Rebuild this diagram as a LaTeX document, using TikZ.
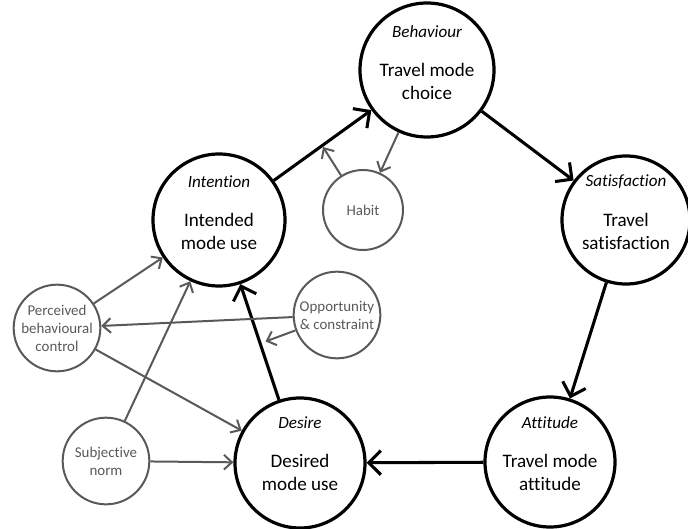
\documentclass[tikz,border=0pt]{standalone}
\usepackage{fontspec}
\setmainfont{Carlito}[Ligatures=NoCommon]
\usetikzlibrary{arrows.meta,calc}
\definecolor{cInk}{HTML}{000000}
\definecolor{cGrey}{HTML}{595959}
\tikzset{
  core/.style = {circle, draw=cInk, line width=2.4pt, minimum size=99pt, inner sep=0pt},
  side/.style = {circle, draw=cGrey, line width=1.5pt, minimum size=65pt, inner sep=0pt,
                 text=cGrey, align=center, font=\fontsize{11.2}{13.5}\selectfont},
  tag/.style  = {font=\fontsize{12.8}{15}\selectfont\itshape},
  main/.style = {align=center, font=\fontsize{14.3}{17.3}\selectfont},
  flow/.style = {-{Straight Barb[length=9pt,width=18pt]}, line width=2.3pt, draw=cInk},
  link/.style = {-{Straight Barb[length=6pt,width=11pt]}, line width=1.5pt, draw=cGrey},
}
\begin{document}
\begin{tikzpicture}[x=0.75pt,y=-0.75pt]
  \useasboundingbox (0,0) rectangle (688,528);
  % the five stages of the cycle
  \node[core, minimum size=100.5pt] (beh) at (427,70) {};
  \node[tag] (behT) at ($(beh)+(0,-38)$) {Behaviour};
  \node[main] (behM) at ($(beh)+(0,11)$) {Travel mode\\choice};
  \node[core] (int) at (219,220) {};
  \node[tag] (intT) at ($(int)+(0,-38)$) {Intention};
  \node[main] (intM) at ($(int)+(0,11)$) {Intended\\mode use};
  \node[core, minimum size=96pt] (sat) at (626,220) {};
  \node[tag] (satT) at ($(sat)+(0,-38)$) {Satisfaction};
  \node[main] (satM) at ($(sat)+(0,11)$) {Travel\\satisfaction};
  \node[core, minimum size=97.5pt] (att) at (550,462) {};
  \node[tag] (attT) at ($(att)+(0,-39)$) {Attitude};
  \node[main] (attM) at ($(att)+(0,10)$) {Travel mode\\attitude};
  \node[core, minimum size=97.5pt] (des) at (300,463) {};
  \node[tag] (desT) at ($(des)+(0,-40)$) {Desire};
  \node[main] (desM) at ($(des)+(0,9)$) {Desired\\mode use};
  % the outside factors
  \node[side, minimum size=60pt] (hab) at (363,210) {Habit};
  \node[side] (pbc) at (57,328) {Perceived\\behavioural\\control};
  \node[side] (opp) at (337,315) {Opportunity\\\& constraint};
  \node[side] (sub) at (106,461) {Subjective\\norm};
  % cycle
  \draw[flow] (int) -- (beh);
  \draw[flow] (beh) -- (sat);
  \draw[flow] (sat) -- (att);
  \draw[flow] (att) -- (des);
  \draw[flow] (des) -- (int);
  % moderating links
  \coordinate (ib) at ($(int)!0.5!(beh)+(0,2)$);
  \coordinate (di) at ($(des)!0.5!(int)+(6,0)$);
  \draw[link] (hab) -- (ib);
  \draw[link] (beh) -- (hab);
  \draw[link] (pbc) -- (int);
  \draw[link] (opp) -- (pbc);
  \draw[link] (opp) -- (di);
  \draw[link] (pbc) -- (des);
  \draw[link] (sub) -- (int);
  \draw[link] (sub) -- (des);
\end{tikzpicture}
\end{document}
